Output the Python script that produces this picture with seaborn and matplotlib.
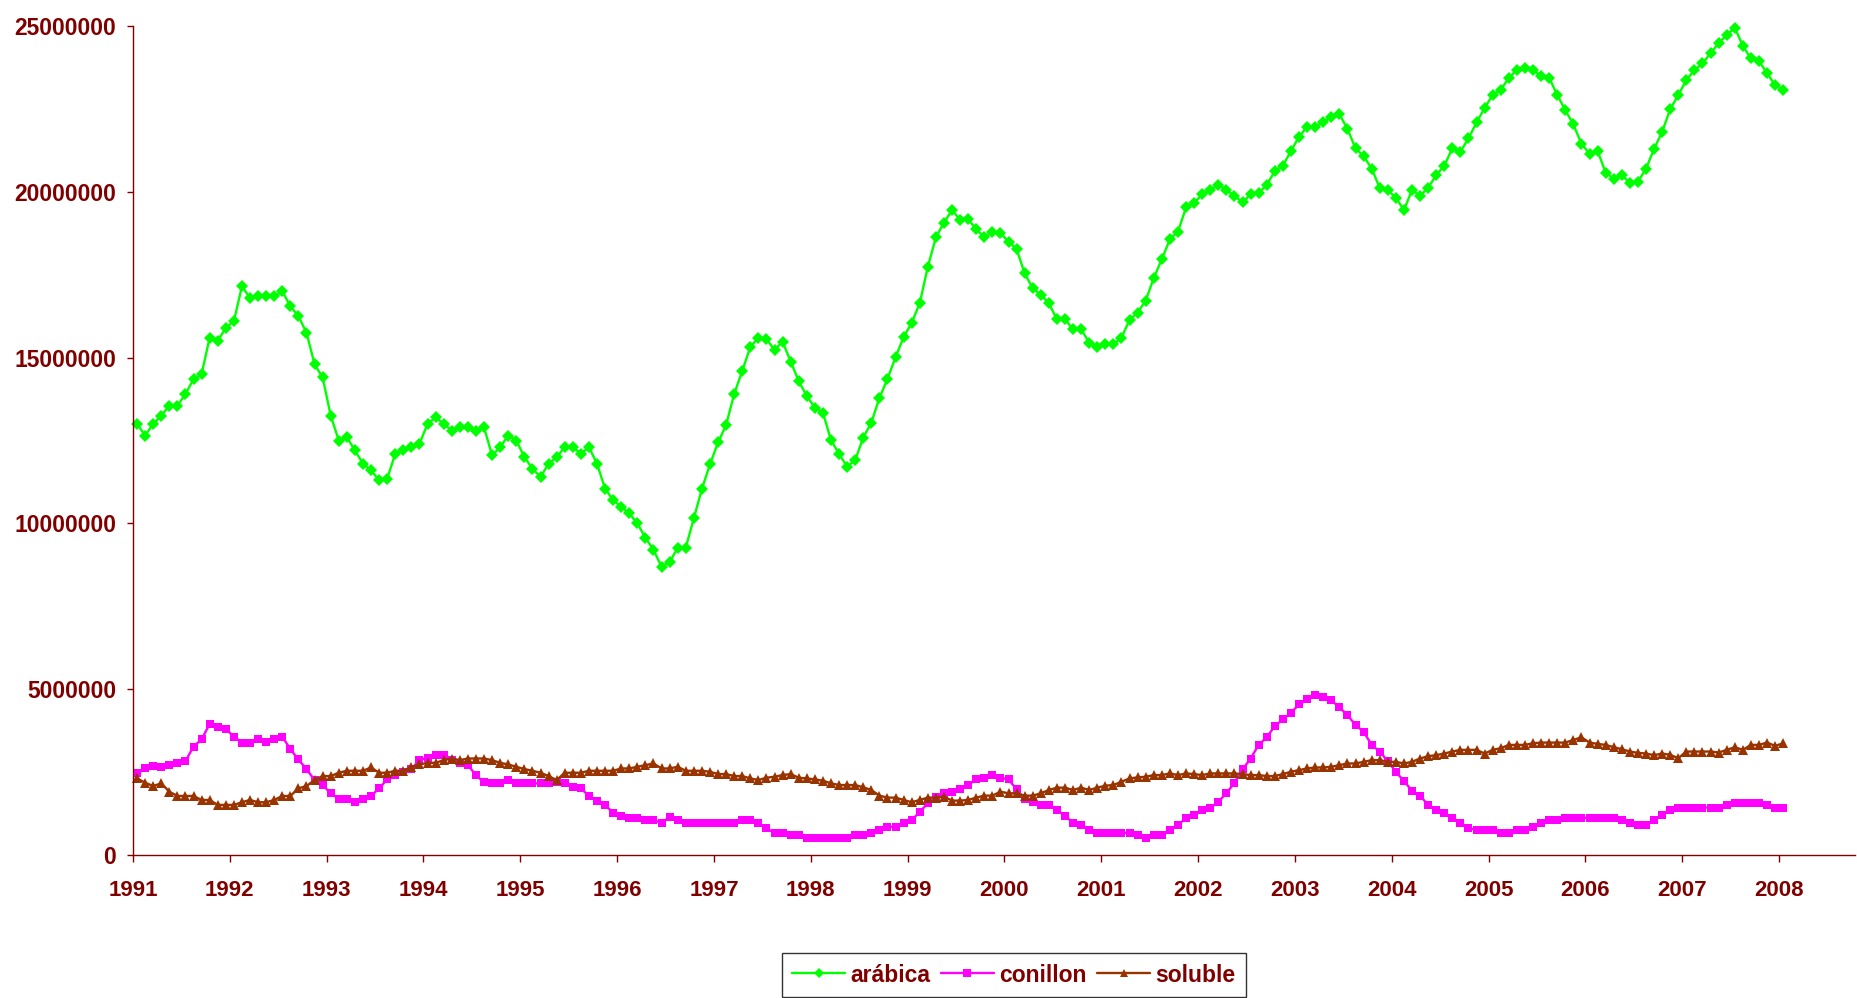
import numpy as np
import pandas as pd
import matplotlib
matplotlib.use("Agg")
import matplotlib.pyplot as plt
import seaborn as sns

# ---- data (monthly, Jan 1991 .. Jan 2008), values in millions ----
years = [str(y) for y in range(1991, 2009)]

arabica = [
    13.0, 12.65, 13.0, 13.25, 13.55, 13.55, 13.9, 14.35, 14.5, 15.6, 15.5, 15.9,
    16.1, 17.15, 16.8, 16.85, 16.85, 16.85, 17.0, 16.55, 16.25, 15.75, 14.8, 14.4,
    13.25, 12.5, 12.6, 12.2, 11.8, 11.6, 11.3, 11.35, 12.1, 12.2, 12.3, 12.4,
    13.0, 13.2, 13.0, 12.8, 12.9, 12.9, 12.8, 12.9, 12.05, 12.3, 12.65, 12.5,
    12.0, 11.65, 11.4, 11.8, 12.0, 12.3, 12.3, 12.1, 12.3, 11.8, 11.05, 10.7,
    10.5, 10.3, 10.0, 9.57, 9.2, 8.7, 8.83, 9.27, 9.27, 10.15, 11.04, 11.78,
    12.44, 12.97, 13.9, 14.6, 15.32, 15.6, 15.56, 15.23, 15.48, 14.88, 14.29, 13.84,
    13.49, 13.34, 12.51, 12.09, 11.71, 11.91, 12.59, 13.04, 13.78, 14.36, 15.01, 15.62,
    16.05, 16.64, 17.74, 18.63, 19.07, 19.45, 19.15, 19.17, 18.87, 18.63, 18.8, 18.75,
    18.5, 18.27, 17.54, 17.09, 16.89, 16.64, 16.15, 16.15, 15.85, 15.85, 15.45, 15.31,
    15.4, 15.4, 15.6, 16.14, 16.36, 16.72, 17.4, 17.97, 18.57, 18.8, 19.53, 19.67,
    19.92, 20.05, 20.22, 20.05, 19.88, 19.68, 19.92, 19.97, 20.2, 20.63, 20.79, 21.23,
    21.66, 21.96, 21.96, 22.09, 22.26, 22.34, 21.9, 21.31, 21.08, 20.7, 20.12, 20.05,
    19.82, 19.45, 20.05, 19.88, 20.12, 20.5, 20.79, 21.31, 21.21, 21.61, 22.09, 22.53,
    22.92, 23.07, 23.44, 23.67, 23.74, 23.67, 23.49, 23.44, 22.92, 22.46, 22.03, 21.45,
    21.15, 21.23, 20.58, 20.4, 20.5, 20.27, 20.3, 20.7, 21.29, 21.81, 22.49, 22.92,
    23.37, 23.67, 23.87, 24.18, 24.48, 24.73, 24.95, 24.4, 24.02, 23.95, 23.57, 23.22,
    23.07,
]

conillon = [
    2.46, 2.61, 2.68, 2.64, 2.71, 2.76, 2.83, 3.27, 3.49, 3.95, 3.87, 3.80,
    3.57, 3.39, 3.39, 3.49, 3.42, 3.49, 3.57, 3.19, 2.88, 2.59, 2.26, 2.11,
    1.86, 1.69, 1.69, 1.61, 1.69, 1.78, 2.01, 2.28, 2.41, 2.51, 2.59, 2.86,
    2.94, 3.01, 3.01, 2.86, 2.78, 2.71, 2.41, 2.19, 2.16, 2.16, 2.26, 2.16,
    2.16, 2.16, 2.16, 2.16, 2.21, 2.16, 2.06, 2.01, 1.78, 1.64, 1.51, 1.27,
    1.18, 1.12, 1.12, 1.05, 1.05, 0.97, 1.15, 1.05, 0.97, 0.97, 0.97, 0.97,
    0.97, 0.97, 0.97, 1.05, 1.05, 0.97, 0.80, 0.67, 0.67, 0.60, 0.60, 0.52,
    0.52, 0.52, 0.52, 0.52, 0.52, 0.60, 0.60, 0.67, 0.75, 0.85, 0.85, 0.98,
    1.05, 1.30, 1.56, 1.76, 1.88, 1.91, 1.98, 2.11, 2.28, 2.33, 2.41, 2.33,
    2.28, 1.98, 1.68, 1.61, 1.51, 1.51, 1.36, 1.18, 0.97, 0.90, 0.75, 0.67,
    0.67, 0.67, 0.67, 0.67, 0.60, 0.52, 0.60, 0.60, 0.75, 0.90, 1.12, 1.21,
    1.36, 1.41, 1.61, 1.86, 2.18, 2.58, 2.91, 3.32, 3.55, 3.89, 4.09, 4.29,
    4.54, 4.69, 4.82, 4.75, 4.67, 4.45, 4.22, 3.92, 3.72, 3.32, 3.12, 2.83,
    2.51, 2.23, 1.94, 1.79, 1.51, 1.36, 1.28, 1.12, 0.98, 0.82, 0.75, 0.75,
    0.75, 0.67, 0.67, 0.75, 0.75, 0.85, 0.98, 1.05, 1.05, 1.12, 1.12, 1.12,
    1.12, 1.12, 1.12, 1.12, 1.05, 0.98, 0.90, 0.90, 1.05, 1.21, 1.36, 1.43,
    1.43, 1.43, 1.43, 1.43, 1.43, 1.51, 1.58, 1.58, 1.58, 1.58, 1.51, 1.43,
    1.43,
]

soluble = [
    2.31, 2.18, 2.08, 2.16, 1.91, 1.78, 1.78, 1.78, 1.66, 1.66, 1.51, 1.51,
    1.51, 1.59, 1.66, 1.59, 1.59, 1.66, 1.78, 1.78, 2.01, 2.08, 2.26, 2.38,
    2.38, 2.48, 2.54, 2.54, 2.54, 2.64, 2.48, 2.48, 2.54, 2.54, 2.66, 2.73,
    2.78, 2.78, 2.86, 2.91, 2.86, 2.91, 2.91, 2.91, 2.86, 2.78, 2.73, 2.66,
    2.59, 2.54, 2.48, 2.38, 2.26, 2.48, 2.48, 2.48, 2.54, 2.54, 2.54, 2.54,
    2.61, 2.61, 2.66, 2.71, 2.76, 2.61, 2.61, 2.66, 2.54, 2.54, 2.54, 2.51,
    2.44, 2.44, 2.38, 2.38, 2.31, 2.26, 2.33, 2.36, 2.41, 2.44, 2.33, 2.31,
    2.28, 2.24, 2.16, 2.11, 2.11, 2.11, 2.04, 1.96, 1.79, 1.73, 1.73, 1.66,
    1.59, 1.66, 1.73, 1.73, 1.76, 1.64, 1.64, 1.66, 1.73, 1.79, 1.79, 1.91,
    1.86, 1.86, 1.79, 1.79, 1.86, 1.96, 2.03, 2.03, 1.96, 2.03, 1.96, 2.03,
    2.09, 2.11, 2.21, 2.31, 2.34, 2.36, 2.41, 2.41, 2.46, 2.41, 2.46, 2.44,
    2.41, 2.46, 2.46, 2.46, 2.46, 2.44, 2.41, 2.41, 2.38, 2.38, 2.44, 2.51,
    2.56, 2.61, 2.64, 2.64, 2.66, 2.71, 2.76, 2.76, 2.81, 2.86, 2.86, 2.81,
    2.81, 2.76, 2.81, 2.91, 2.98, 3.01, 3.06, 3.12, 3.17, 3.17, 3.17, 3.06,
    3.17, 3.22, 3.32, 3.32, 3.32, 3.37, 3.39, 3.39, 3.39, 3.39, 3.47, 3.55,
    3.39, 3.35, 3.32, 3.25, 3.19, 3.12, 3.08, 3.06, 3.01, 3.06, 3.02, 2.92,
    3.12, 3.12, 3.12, 3.12, 3.09, 3.17, 3.25, 3.17, 3.32, 3.32, 3.39, 3.29,
    3.37,
]

series_names = ["arábica", "conillon", "soluble"]
series_colors = ["#00FF00", "#FF00FF", "#993300"]
series_markers = ["D", "s", "^"]
series_msize = [6.4, 6.4, 7.2]

month_index = np.arange(len(arabica))
df = pd.DataFrame({
    "mes": month_index,
    "arábica": np.array(arabica) * 1e6,
    "conillon": np.array(conillon) * 1e6,
    "soluble": np.array(soluble) * 1e6,
})

sns.set_theme(style="ticks")
plt.rcParams["font.family"] = ["Liberation Sans", "DejaVu Sans"]

DARKRED = "#800000"
W, H = 1858, 998
fig = plt.figure(figsize=(W / 100, H / 100), dpi=100)
ax = fig.add_axes([133 / W, 1 - 855 / H, (1855 - 133) / W, (855 - 26) / H])

for name, col, mk, ms in zip(series_names, series_colors, series_markers, series_msize):
    sns.lineplot(data=df, x="mes", y=name, ax=ax, color=col, marker=mk,
                 markersize=ms, markeredgewidth=0, linewidth=1.7, label=name,
                 estimator=None, clip_on=False)

ax.set_xlim(-0.5, 212.9)
ax.set_ylim(0, 25e6)
ax.set_xticks([-0.5 + 12 * j for j in range(len(years))])
ax.set_xticklabels(years)
yt = [0, 5000000, 10000000, 15000000, 20000000, 25000000]
ax.set_yticks(yt)
ax.set_yticklabels([str(v) for v in yt])
ax.set_xlabel("")
ax.set_ylabel("")

for s in ["top", "right"]:
    ax.spines[s].set_visible(False)
for s in ["left", "bottom"]:
    ax.spines[s].set_color(DARKRED)
    ax.spines[s].set_linewidth(1.0)

ax.tick_params(axis="y", direction="out", length=4.5, width=1, color=DARKRED,
               labelcolor=DARKRED, labelsize=16.5, pad=7.5)
ax.tick_params(axis="x", direction="out", length=5, width=1, color=DARKRED,
               labelcolor=DARKRED, labelsize=16, pad=13)
for lbl in ax.get_xticklabels() + ax.get_yticklabels():
    lbl.set_fontweight("bold")

handles, labels = ax.get_legend_handles_labels()
ax.get_legend().remove()
leg = fig.legend(handles, labels, loc="center",
                 bbox_to_anchor=(1014 / W, 1 - 975 / H), ncol=3,
                 frameon=True, fancybox=False, edgecolor="black",
                 prop={"size": 16.5, "weight": "bold"},
                 handlelength=2.3, handletextpad=0.25, columnspacing=0.45,
                 borderpad=0.45, borderaxespad=0, markerscale=0.85)
leg.get_frame().set_linewidth(1.0)
for t in leg.get_texts():
    t.set_color(DARKRED)

fig.savefig("out.png", dpi=100)
